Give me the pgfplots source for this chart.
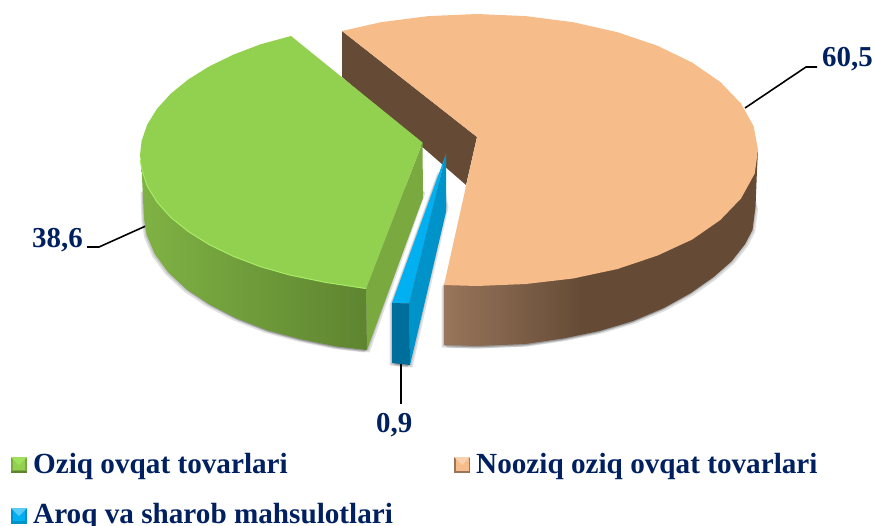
\documentclass[border=0pt]{standalone}
\usepackage{pgfplots}
\usepackage{pgfplotstable}
\usepackage{fontspec}
\setmainfont{Liberation Serif}
\pgfplotsset{compat=1.18}
\definecolor{navy}{HTML}{002060}
\definecolor{gtop}{HTML}{92D050}
\definecolor{gface}{HTML}{7AA93F}
\definecolor{grim}{HTML}{A8EC66}
\definecolor{gwa}{HTML}{7FB244}
\definecolor{gwb}{HTML}{5E8430}
\definecolor{otop}{HTML}{F6BD8B}
\definecolor{owa}{HTML}{98755B}
\definecolor{owb}{HTML}{654B36}
\definecolor{btop}{HTML}{00B0F0}
\definecolor{bside}{HTML}{0093C9}
\definecolor{bfront}{HTML}{006E9A}
\pgfdeclarehorizontalshading{owall}{100bp}{color(0bp)=(owa); color(25bp)=(owa); color(47bp)=(owb); color(100bp)=(owb)}
\pgfdeclarehorizontalshading{gwall}{100bp}{color(0bp)=(gwa); color(25bp)=(gwa); color(75bp)=(gwb); color(100bp)=(gwb)}

\pgfplotstableread{
x y
291 36
260.2 44.4
233.3 54.7
209.2 66.4
188.2 79.5
170.7 93.7
157 108.8
147.2 124.6
141.6 140.9
140 155
141.6 169.1
147.2 186
157 202
170.7 217.3
188.2 231.5
209.2 244.6
233.3 256.3
260.2 266.6
289.6 275
325.6 282.4
366 289
422.5 142.5
}\greentop
\pgfplotstableread{
x y
140.3 160
141.6 169.1
147.2 186
157 202
170.7 217.3
188.2 231.5
209.2 244.6
233.3 256.3
260.2 266.6
289.6 275
325.6 282.4
366 288.5
}\greenrim
\pgfplotstableread{
x y
141 155
141.6 169
144 219
146.7 235
154.8 254
168 272
186.3 289
209 304
236 318
266.5 330
300 339
336 346.4
367 350
366 289
300 200
}\greenwall
\pgfplotstableread{
x y
423 190
367 350
336 346.4
300 339
266.5 330
236 318
209 304
186.3 289
168 272
154.8 254
146.7 235
144 219
143 190
300 150
}\greenshadow
\pgfplotstableread{
x y
366 289
422.5 142.5
423 198
367 350
}\greenface
\pgfplotstableread{
x y
342 31
380.9 22.2
428.2 16.1
477 14
525.8 16.1
573.1 22.2
617.5 32.2
657.6 45.8
692.2 62.6
720.3 82
741 103.5
753.7 126.4
758 150
754.7 173.6
741 198.5
720.3 220
692.2 239.5
657.6 255.5
617.5 269
573.1 278.5
525.8 284
477 286
444 285
477 137
}\orangetop
\pgfplotstableread{
x y
758 150
757 170
755.5 207
752.5 230
745.2 244
731.9 261
713.6 277
690.7 293
663.7 308
633 321
599.3 331
563.2 338.5
525.4 344
477 346
444 345
444 285
500 200
}\orangewall
\pgfplotstableread{
x y
752 190
755.5 207
752.5 230
745.2 244
731.9 261
713.6 277
690.7 293
663.7 308
633 321
599.3 331
563.2 338.5
525.4 344
477 346
444 345
444 285
500 200
}\orangeshadow
\pgfplotstableread{
x y
342 31
477 137
466 185
342 77
}\orangeinner
\pgfplotstableread{
x y
446 205
410 365
392 363
392 303
440 170
}\blueshadow

\begin{document}
\begin{tikzpicture}
\useasboundingbox (0,0) rectangle (875bp,526bp);
\clip (0,0) rectangle (875bp,526bp);
\begin{axis}[
  at={(0,0)}, anchor=south west,
  scale only axis, width=875bp, height=526bp,
  xmin=0, xmax=875, ymin=0, ymax=526, y dir=reverse,
  hide axis, clip=true]
% leaders
\addplot[black, line width=1.6pt] coordinates {(745,108) (806,67) (817,67)};
\addplot[black, line width=1.6pt] coordinates {(148,225) (99,247) (87,247)};
\addplot[black, line width=1.6pt] coordinates {(401,360) (401,404)};
% orange shadow
\addplot[draw=none, fill=black, fill opacity=.12] table[x expr=\thisrow{x}+2.5, y expr=\thisrow{y}+2.5] {\orangeshadow};
\addplot[draw=none, fill=black, fill opacity=.12] table[x expr=\thisrow{x}-2.5, y expr=\thisrow{y}+2.5] {\orangeshadow};
\addplot[draw=none, fill=black, fill opacity=.12] table[x expr=\thisrow{x}+1.2, y expr=\thisrow{y}+1.2] {\orangeshadow};
\addplot[draw=none, fill=black, fill opacity=.12] table[x expr=\thisrow{x}-1.2, y expr=\thisrow{y}+1.2] {\orangeshadow};
% orange
\addplot[draw=none, fill=owb] table {\orangeinner};
\addplot[draw=none, shade, shading=owall] table {\orangewall};
\addplot[draw=none, fill=otop] table {\orangetop};
% green shadow
\addplot[draw=none, fill=black, fill opacity=.12] table[x expr=\thisrow{x}+2.5, y expr=\thisrow{y}+2.5] {\greenshadow};
\addplot[draw=none, fill=black, fill opacity=.12] table[x expr=\thisrow{x}-2.5, y expr=\thisrow{y}+2.5] {\greenshadow};
\addplot[draw=none, fill=black, fill opacity=.12] table[x expr=\thisrow{x}+1.2, y expr=\thisrow{y}+1.2] {\greenshadow};
\addplot[draw=none, fill=black, fill opacity=.12] table[x expr=\thisrow{x}-1.2, y expr=\thisrow{y}+1.2] {\greenshadow};
% green
\addplot[draw=none, shade, shading=gwall] table {\greenwall};
\addplot[draw=none, fill=gface] table {\greenface};
\addplot[draw=none, fill=gtop] table {\greentop};
\addplot[grim, line width=1pt] table {\greenrim};
% blue shadow
\addplot[draw=none, fill=black, fill opacity=.12] table[x expr=\thisrow{x}+2.5, y expr=\thisrow{y}+2.5] {\blueshadow};
\addplot[draw=none, fill=black, fill opacity=.12] table[x expr=\thisrow{x}-2.5, y expr=\thisrow{y}+2.5] {\blueshadow};
\addplot[draw=none, fill=black, fill opacity=.12] table[x expr=\thisrow{x}+1.2, y expr=\thisrow{y}+1.2] {\blueshadow};
\addplot[draw=none, fill=black, fill opacity=.12] table[x expr=\thisrow{x}-1.2, y expr=\thisrow{y}+1.2] {\blueshadow};
% blue
\addplot[draw=none, fill=btop] coordinates {(446,154) (392,303) (409,303.5)};
\addplot[draw=none, fill=bside] coordinates {(446,154) (446,212) (410,365) (409,303.5)};
\addplot[draw=none, fill=bfront] coordinates {(392,303) (409,303.5) (410,365) (392,363)};
% legend swatches
\addplot[draw=none, fill=gface] coordinates {(11,457) (27,457) (27,473) (11,473)};
\addplot[draw=none, fill=gtop] coordinates {(13,459) (25,459) (25,470) (13,470)};
\addplot[draw=none, fill=grim!60!gtop] coordinates {(11,457) (27,457) (19,465)};
\addplot[draw=none, fill=gwb] coordinates {(11,471) (27,471) (27,473) (11,473)};
\addplot[draw=none, fill=owa] coordinates {(454,457) (470,457) (470,473) (454,473)};
\addplot[draw=none, fill=otop] coordinates {(455.5,459) (468.5,459) (468.5,470.5) (455.5,470.5)};
\addplot[draw=none, fill=otop!70!white] coordinates {(454,457) (470,457) (462,465)};
\addplot[draw=none, fill=bside] coordinates {(11,508) (27,508) (27,524) (11,524)};
\addplot[draw=none, fill=btop] coordinates {(13,510) (25,510) (25,521) (13,521)};
\addplot[draw=none, fill=btop!65!white] coordinates {(11,508) (27,508) (19,516)};
% text
\node[anchor=base west, inner sep=0, text=navy, font=\fontsize{29}{32}\selectfont\bfseries] at (axis cs:822,67) {60,5};
\node[anchor=base west, inner sep=0, text=navy, font=\fontsize{29}{32}\selectfont\bfseries] at (axis cs:32,247) {38,6};
\node[anchor=base west, inner sep=0, text=navy, font=\fontsize{29}{32}\selectfont\bfseries] at (axis cs:376,432) {0,9};
\node[anchor=base west, inner sep=0, text=navy, font=\fontsize{29.3}{32}\selectfont\bfseries] at (axis cs:33,473.5) {Oziq ovqat tovarlari};
\node[anchor=base west, inner sep=0, text=navy, font=\fontsize{29.3}{32}\selectfont\bfseries] at (axis cs:476,473.5) {Nooziq oziq ovqat tovarlari};
\node[anchor=base west, inner sep=0, text=navy, font=\fontsize{29.3}{32}\selectfont\bfseries] at (axis cs:33,523) {Aroq va sharob mahsulotlari};
\end{axis}
\end{tikzpicture}
\end{document}
